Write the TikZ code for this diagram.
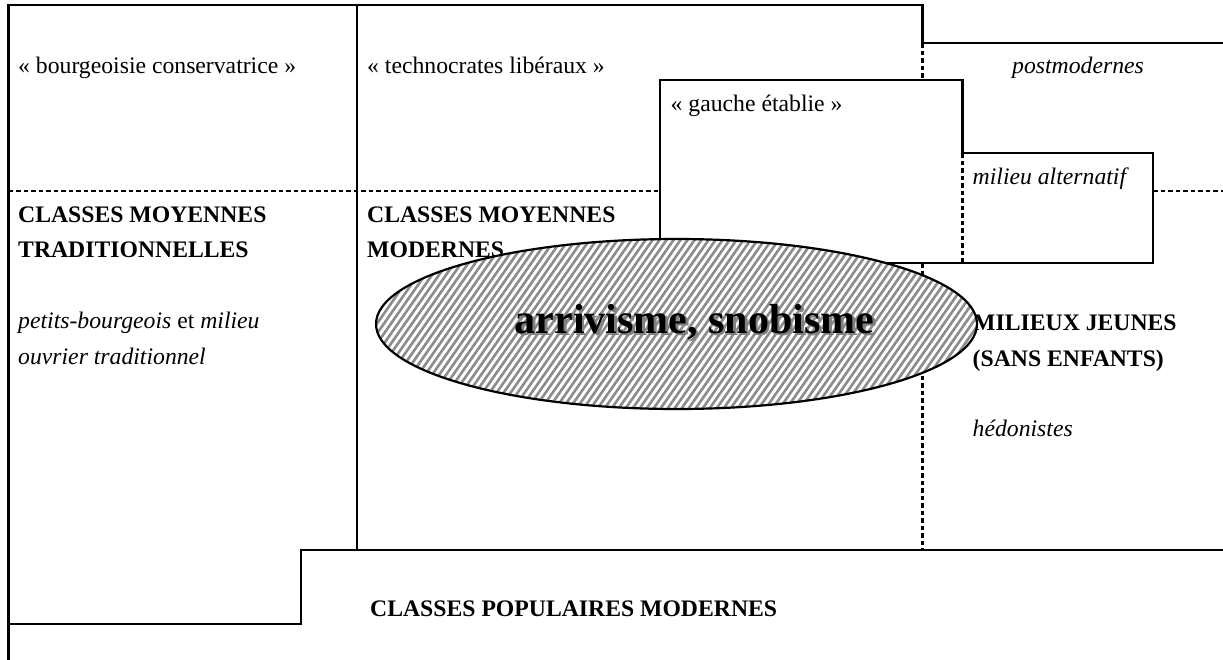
\documentclass[tikz,border=0pt]{standalone}
\usepackage{fontspec}
\setmainfont{Liberation Serif}
\usetikzlibrary{shapes.geometric}
\begin{document}
\begin{tikzpicture}[x=1pt,y=-1pt,
  frameline/.style={line width=2.4pt, line cap=rect},
  dashline/.style={line width=2.1pt, dash pattern=on 4.5pt off 3pt},
  lbl/.style={anchor=base west, inner sep=0pt, font=\fontsize{23.7}{35}\selectfont},
  blbl/.style={lbl, font=\bfseries\fontsize{23.7}{35}\selectfont},
  ilbl/.style={lbl, font=\itshape\fontsize{23.7}{35}\selectfont},
  hatch/.style={draw=black!45, line width=2.6pt},
  bigtxt/.style={anchor=base, inner sep=0pt, font=\bfseries\fontsize{42}{50}\selectfont}]
\useasboundingbox (0,0) rectangle (1223,659);
\fill[white] (0,0) rectangle (1223,659);
% frame
\draw[frameline] (8.5,659) -- (8.5,5) -- (922.5,5) -- (922.5,43) -- (1223,43);
\draw[frameline] (357,5) -- (357,550);
\draw[frameline] (1223,550) -- (301,550) -- (301,624) -- (8.5,624);
% dashed separators
\draw[dashline] (8.5,190.7) -- (660,190.7);
\draw[dashline] (1153,190.7) -- (1223,190.7);
\draw[dashline] (922.5,43) -- (922.5,80);
\draw[dashline] (922.5,263) -- (922.5,550);
% gauche etablie / milieu alternatif box
\filldraw[fill=white, frameline] (660,80) -- (962.5,80) -- (962.5,153) -- (1153,153) -- (1153,263) -- (660,263) -- cycle;
\draw[dashline] (962.5,153) -- (962.5,263);
% texts
\node[lbl] (bc) at (18,73) {« bourgeoisie conservatrice »};
\node[lbl] (tl) at (367,73) {« technocrates libéraux »};
\node[ilbl] (pm) at (1012,73) {postmodernes};
\node[lbl] (ge) at (670.5,111) {« gauche établie »};
\node[ilbl] (ma) at (972.5,184) {milieu alternatif};
\node[blbl] (cmt1) at (18,222) {CLASSES MOYENNES};
\node[blbl] (cmt2) at (18,257) {TRADITIONNELLES};
\node[blbl] (cmm1) at (367,222) {CLASSES MOYENNES};
\node[blbl] (cmm2) at (367,257) {MODERNES};
\node[lbl] (pb1) at (18,328) {\itshape petits-bourgeois\upshape{} et \itshape milieu};
\node[ilbl] (pb2) at (18,364) {ouvrier traditionnel};
\node[blbl] (mj1) at (973,330) {MILIEUX JEUNES};
\node[blbl] (mj2) at (972.5,366.5) {(SANS ENFANTS)};
\node[ilbl] (he) at (972.5,436) {hédonistes};
\node[blbl] (cpm) at (370,616) {CLASSES POPULAIRES MODERNES};
% ellipse
\begin{scope}
  \clip (676.5,324) ellipse [x radius=300.5, y radius=85];
  \fill[white] (370,235) rectangle (985,415);
  \foreach \i in {0,...,106} \draw[hatch] ({250+7*\i},415) -- ++(126,-180);
\end{scope}
\node[draw, ellipse, line width=2.2pt, minimum width=601pt, minimum height=170pt, inner sep=0pt] (blob) at (676.5,324) {};
\node[bigtxt, text=black!50] (shadow) at (697,335.5) {arrivisme, snobisme};
\node[bigtxt] (label) at (694.5,333) {arrivisme, snobisme};
\end{tikzpicture}
\end{document}
